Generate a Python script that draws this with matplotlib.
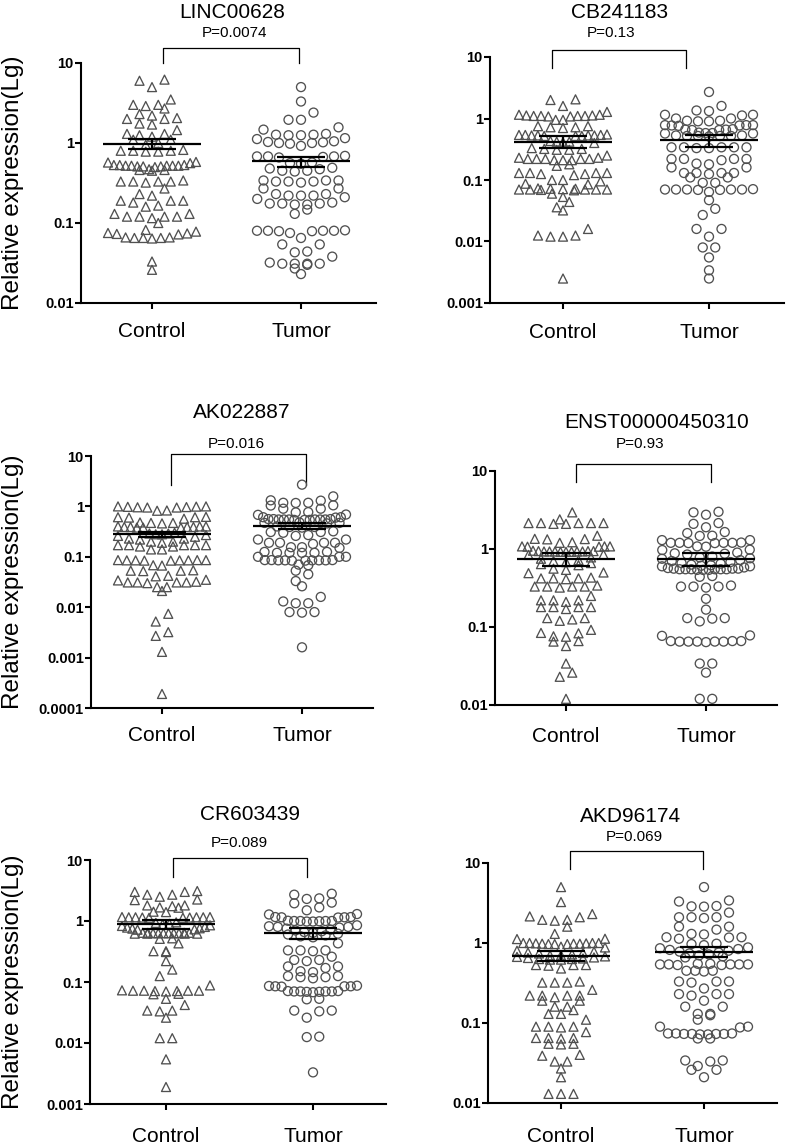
import numpy as np
import matplotlib
matplotlib.use("Agg")
import matplotlib.pyplot as plt
from matplotlib.ticker import FuncFormatter, NullLocator

plt.rcParams['font.family'] = ['Liberation Sans', 'DejaVu Sans']

# ---- data (relative expression, log scale) ----
groups = ["Control", "Tumor"]
genes = ["LINC00628", "CB241183", "AK022887", "ENST00000450310", "CR603439", "AKD96174"]
p_values = ["P=0.0074", "P=0.13", "P=0.016", "P=0.93", "P=0.089", "P=0.069"]
y_bottoms = [0.01, 0.001, 0.0001, 0.01, 0.001, 0.01]

linc_control = [6.2, 6.0, 5.0, 3.5, 3.0, 3.0, 2.9, 2.7, 2.3, 2.2, 2.05, 2.0, 2.0, 1.75, 1.7, 1.45,
                1.3, 1.3, 1.25, 1.2, 1.1, 1.1, 1.0, 0.95, 0.8, 0.8, 0.78, 0.8, 0.82, 0.78, 0.58,
                0.56, 0.57, 0.53, 0.52, 0.52, 0.51, 0.52, 0.53, 0.51, 0.52, 0.5, 0.52, 0.53, 0.51,
                0.47, 0.46, 0.46, 0.45, 0.33, 0.33, 0.32, 0.33, 0.34, 0.33, 0.27, 0.23, 0.22, 0.19,
                0.19, 0.18, 0.19, 0.165, 0.16, 0.13, 0.13, 0.12, 0.12, 0.115, 0.12, 0.12, 0.1,
                0.082, 0.078, 0.075, 0.072, 0.074, 0.073, 0.066, 0.065, 0.065, 0.066, 0.064,
                0.065, 0.033, 0.026]
linc_tumor = [5.0, 3.3, 2.4, 1.95, 1.95, 1.57, 1.47, 1.3, 1.27, 1.25, 1.27, 1.25, 1.15, 1.12,
              1.05, 1.02, 1.0, 0.98, 1.0, 1.03, 0.92, 0.68, 0.68, 0.67, 0.69, 0.66, 0.68, 0.57,
              0.55, 0.56, 0.49, 0.48, 0.47, 0.45, 0.44, 0.45, 0.34, 0.33, 0.33, 0.34, 0.33, 0.32,
              0.34, 0.27, 0.27, 0.22, 0.23, 0.22, 0.21, 0.22, 0.23, 0.2, 0.175, 0.17, 0.175, 0.18,
              0.17, 0.175, 0.147, 0.13, 0.08, 0.08, 0.079, 0.08, 0.081, 0.08, 0.079, 0.075, 0.065,
              0.054, 0.054, 0.044, 0.043, 0.038, 0.031, 0.031, 0.032, 0.031, 0.03, 0.031, 0.027,
              0.023]
cb_control = [2.05, 2.0, 1.6, 1.28, 1.15, 1.1, 1.1, 1.08, 1.1, 1.12, 1.08, 1.1, 1.15, 1.12, 0.95,
              0.95, 0.75, 0.72, 0.7, 0.72, 0.75, 0.54, 0.53, 0.52, 0.53, 0.54, 0.52, 0.53, 0.55,
              0.52, 0.53, 0.54, 0.42, 0.41, 0.43, 0.42, 0.4, 0.32, 0.31, 0.32, 0.33, 0.31, 0.25,
              0.22, 0.22, 0.21, 0.22, 0.23, 0.21, 0.22, 0.21, 0.22, 0.23, 0.18, 0.17, 0.13, 0.125,
              0.13, 0.12, 0.13, 0.125, 0.13, 0.1, 0.1, 0.095, 0.087, 0.085, 0.072, 0.07, 0.07,
              0.068, 0.07, 0.071, 0.069, 0.07, 0.07, 0.072, 0.073, 0.06, 0.053, 0.044, 0.036,
              0.032, 0.016, 0.0125, 0.012, 0.012, 0.0125, 0.0025]
cb_tumor = [2.7, 1.6, 1.35, 1.32, 1.15, 1.15, 1.12, 1.0, 1.0, 0.92, 0.9, 0.92, 0.9, 0.78, 0.77,
            0.78, 0.76, 0.78, 0.77, 0.66, 0.65, 0.66, 0.67, 0.65, 0.58, 0.57, 0.58, 0.59, 0.57,
            0.52, 0.52, 0.53, 0.51, 0.52, 0.52, 0.53, 0.34, 0.34, 0.33, 0.34, 0.33, 0.34, 0.34,
            0.22, 0.22, 0.21, 0.22, 0.22, 0.185, 0.18, 0.16, 0.16, 0.13, 0.13, 0.125, 0.13, 0.13,
            0.11, 0.11, 0.09, 0.09, 0.07, 0.07, 0.069, 0.07, 0.071, 0.07, 0.069, 0.07, 0.064,
            0.047, 0.034, 0.027, 0.016, 0.016, 0.012, 0.008, 0.008, 0.0055, 0.0034, 0.0025]
ak_control = [1.0, 0.98, 0.99, 1.0, 0.95, 0.96, 0.97, 0.95, 0.83, 0.82, 0.61, 0.6, 0.62, 0.61,
              0.57, 0.47, 0.46, 0.47, 0.48, 0.39, 0.38, 0.4, 0.39, 0.39, 0.38, 0.4, 0.39, 0.38,
              0.4, 0.3, 0.29, 0.28, 0.29, 0.27, 0.28, 0.26, 0.25, 0.23, 0.22, 0.23, 0.2, 0.2, 0.19,
              0.17, 0.17, 0.16, 0.17, 0.17, 0.16, 0.17, 0.14, 0.14, 0.086, 0.085, 0.084, 0.086,
              0.085, 0.084, 0.085, 0.086, 0.085, 0.068, 0.067, 0.053, 0.052, 0.053, 0.054, 0.042,
              0.041, 0.035, 0.034, 0.031, 0.031, 0.03, 0.031, 0.032, 0.031, 0.025, 0.025, 0.021,
              0.0074, 0.0052, 0.0032, 0.0027, 0.0013, 0.00019]
ak_tumor = [2.7, 1.58, 1.32, 1.3, 1.18, 1.17, 1.18, 1.05, 1.04, 0.9, 0.9, 0.77, 0.76, 0.69, 0.68,
            0.61, 0.6, 0.61, 0.55, 0.55, 0.54, 0.56, 0.55, 0.54, 0.55, 0.56, 0.55, 0.54, 0.55,
            0.56, 0.47, 0.46, 0.47, 0.48, 0.39, 0.4, 0.38, 0.39, 0.31, 0.31, 0.32, 0.3, 0.27,
            0.26, 0.22, 0.22, 0.19, 0.19, 0.18, 0.19, 0.19, 0.155, 0.15, 0.155, 0.12, 0.12, 0.125,
            0.12, 0.12, 0.125, 0.1, 0.1, 0.1, 0.086, 0.085, 0.085, 0.084, 0.086, 0.085, 0.085,
            0.084, 0.086, 0.085, 0.07, 0.068, 0.053, 0.045, 0.033, 0.026, 0.016, 0.013, 0.012,
            0.012, 0.008, 0.0078, 0.008, 0.0016]
enst_control = [2.95, 2.4, 2.15, 2.15, 2.15, 2.1, 2.15, 2.15, 2.1, 1.48, 1.34, 1.33, 1.35, 1.22,
                1.2, 1.08, 1.07, 1.08, 1.08, 1.07, 0.95, 0.93, 0.92, 0.93, 0.94, 0.93, 0.92, 0.94,
                0.93, 0.93, 0.92, 0.94, 0.85, 0.84, 0.78, 0.75, 0.72, 0.7, 0.68, 0.66, 0.64, 0.62,
                0.56, 0.54, 0.5, 0.49, 0.42, 0.42, 0.41, 0.42, 0.43, 0.33, 0.33, 0.34, 0.33, 0.32,
                0.33, 0.25, 0.22, 0.22, 0.22, 0.21, 0.18, 0.18, 0.17, 0.18, 0.18, 0.13, 0.13,
                0.125, 0.12, 0.092, 0.084, 0.083, 0.076, 0.075, 0.066, 0.065, 0.057, 0.034, 0.026,
                0.023, 0.012]
enst_tumor = [3.0, 2.95, 2.75, 2.15, 2.1, 1.9, 1.65, 1.6, 1.48, 1.47, 1.3, 1.3, 1.2, 1.2, 1.19,
              1.2, 1.21, 1.2, 1.19, 1.08, 1.07, 0.98, 0.97, 0.9, 0.88, 0.87, 0.85, 0.8, 0.78,
              0.76, 0.75, 0.72, 0.7, 0.68, 0.66, 0.65, 0.63, 0.62, 0.61, 0.6, 0.6, 0.58, 0.57,
              0.56, 0.55, 0.55, 0.54, 0.55, 0.56, 0.55, 0.54, 0.55, 0.56, 0.55, 0.54, 0.45, 0.44,
              0.33, 0.33, 0.34, 0.33, 0.32, 0.23, 0.167, 0.13, 0.13, 0.128, 0.118, 0.078, 0.077,
              0.066, 0.065, 0.065, 0.066, 0.065, 0.064, 0.065, 0.066, 0.065, 0.034, 0.034, 0.026,
              0.012, 0.012]
cr_control = [3.1, 3.0, 3.0, 2.7, 2.7, 2.5, 2.25, 2.2, 1.8, 1.8, 1.75, 1.67, 1.65, 1.42, 1.4,
              1.15, 1.14, 1.16, 1.15, 1.13, 1.15, 1.16, 1.14, 1.15, 1.13, 0.95, 0.93, 0.9, 0.88,
              0.85, 0.83, 0.8, 0.78, 0.76, 0.75, 0.73, 0.72, 0.64, 0.63, 0.62, 0.63, 0.64, 0.62,
              0.63, 0.64, 0.63, 0.62, 0.63, 0.64, 0.62, 0.63, 0.52, 0.51, 0.43, 0.32, 0.32, 0.31,
              0.22, 0.16, 0.125, 0.088, 0.072, 0.071, 0.072, 0.073, 0.071, 0.072, 0.07, 0.072,
              0.064, 0.063, 0.053, 0.042, 0.034, 0.034, 0.033, 0.026, 0.012, 0.012, 0.0054, 0.0019]
cr_tumor = [2.8, 2.7, 2.35, 2.3, 2.0, 1.95, 1.67, 1.5, 1.3, 1.28, 1.16, 1.15, 1.14, 1.15, 1.16,
            1.0, 1.0, 0.98, 1.0, 0.99, 1.0, 1.01, 0.98, 0.85, 0.82, 0.8, 0.8, 0.78, 0.75, 0.72,
            0.7, 0.68, 0.66, 0.64, 0.62, 0.6, 0.58, 0.56, 0.54, 0.43, 0.33, 0.33, 0.32, 0.33,
            0.26, 0.23, 0.23, 0.22, 0.18, 0.18, 0.17, 0.15, 0.145, 0.125, 0.125, 0.12, 0.12,
            0.115, 0.087, 0.085, 0.085, 0.086, 0.084, 0.085, 0.07, 0.071, 0.069, 0.07, 0.068,
            0.07, 0.071, 0.069, 0.07, 0.053, 0.052, 0.034, 0.034, 0.033, 0.026, 0.0127, 0.0125,
            0.0033]
akd_control = [5.0, 3.25, 2.3, 2.15, 2.1, 1.95, 1.95, 1.9, 1.6, 1.3, 1.13, 1.12, 1.0, 0.98, 1.0,
               0.97, 0.99, 1.0, 0.98, 0.97, 1.0, 0.99, 0.98, 0.97, 0.9, 0.88, 0.8, 0.78, 0.76,
               0.75, 0.74, 0.72, 0.7, 0.7, 0.68, 0.67, 0.66, 0.65, 0.63, 0.62, 0.63, 0.62, 0.64,
               0.53, 0.53, 0.52, 0.53, 0.48, 0.32, 0.32, 0.33, 0.32, 0.26, 0.22, 0.22, 0.21, 0.22,
               0.22, 0.19, 0.19, 0.16, 0.16, 0.145, 0.13, 0.13, 0.11, 0.09, 0.09, 0.088, 0.09,
               0.077, 0.065, 0.065, 0.064, 0.065, 0.055, 0.054, 0.055, 0.04, 0.039, 0.033, 0.033,
               0.027, 0.021, 0.013, 0.013, 0.013]
akd_tumor = [5.0, 3.4, 3.3, 2.9, 2.85, 2.87, 2.4, 2.1, 2.1, 2.05, 2.1, 1.6, 1.6, 1.47, 1.3, 1.28,
             1.18, 1.17, 1.18, 1.13, 0.98, 0.97, 0.94, 0.88, 0.86, 0.84, 0.82, 0.8, 0.78, 0.76,
             0.74, 0.72, 0.7, 0.68, 0.66, 0.54, 0.54, 0.53, 0.54, 0.55, 0.54, 0.53, 0.54, 0.55,
             0.45, 0.45, 0.44, 0.45, 0.33, 0.33, 0.32, 0.33, 0.27, 0.23, 0.23, 0.22, 0.23, 0.19,
             0.16, 0.16, 0.13, 0.13, 0.125, 0.11, 0.09, 0.09, 0.088, 0.073, 0.074, 0.072, 0.073,
             0.074, 0.072, 0.073, 0.074, 0.073, 0.064, 0.064, 0.034, 0.034, 0.033, 0.029, 0.026,
             0.026, 0.021]

control_data = [linc_control, cb_control, ak_control, enst_control, cr_control, akd_control]
tumor_data = [linc_tumor, cb_tumor, ak_tumor, enst_tumor, cr_tumor, akd_tumor]
# mean and SEM as drawn in the figure
control_mean = [0.98, 0.42, 0.28, 0.75, 0.89, 0.69]
control_sem = [0.13, 0.09, 0.035, 0.14, 0.16, 0.10]
tumor_mean = [0.59, 0.44, 0.41, 0.75, 0.63, 0.77]
tumor_sem = [0.085, 0.095, 0.05, 0.14, 0.13, 0.11]

# ---- layout in pixels of the 787x1145 canvas ----
W, H = 787, 1145
# axis left, axis right, y of top tick (10), y of x axis, x of the two group ticks
frames = [(81, 376, 63, 303, 152, 301), (490, 784, 57, 303, 563, 709),
          (91, 373, 456, 708, 162, 302), (495, 777, 471, 705, 566, 706),
          (90, 386, 860, 1104, 166, 313), (488, 777, 863, 1103, 561, 704)]
title_xy = [(232, 13), (620, 13), (242, 413), (657, 423), (250, 815), (631, 817)]
pval_xy = [(235, 33), (611, 33), (236, 444), (640, 444), (239, 843), (634, 837)]
bracket_x = [(163, 299), (552, 686), (171, 306), (576, 711), (173, 307), (570, 703)]
bracket_y = [(48, 63), (50, 68), (454, 485), (464, 482), (858, 877), (851, 869)]
label_base = [337, 338, 741, 742, 1142, 1142]

PX = 100 / 72.0  # pixels per point


def swarm_x(ax, xc, vals, row_px=8.0, step_px=12.5, max_px=88.0):
    # Prism-like column scatter: points close in y share a row, spread evenly
    vals = np.asarray(vals, float)
    ypx = ax.transData.transform(np.column_stack([np.full(len(vals), xc), vals]))[:, 1]
    rows = []
    for i in np.argsort(-ypx):
        if rows and rows[-1][0] - ypx[i] < row_px:
            rows[-1][1].append(i)
        else:
            rows.append([ypx[i], [i]])
    dx = np.zeros(len(vals))
    for _, idx in rows:
        n = len(idx)
        sp = step_px if n < 2 else min(step_px, max_px / (n - 1))
        slots = (np.arange(n) - (n - 1) / 2) * sp
        slots = slots[np.argsort(np.abs(slots), kind="stable")]
        for j, s in zip(sorted(idx, key=lambda k: vals[k]), slots):
            dx[j] = s
    ppu = ax.transData.transform((1, 1))[0] - ax.transData.transform((0, 1))[0]
    return xc + dx / ppu


fig = plt.figure(figsize=(W / 100, H / 100), dpi=100)

for p in range(6):
    x0, x1, yt, yb, t1, t2 = frames[p]
    span = float(t2 - t1)
    ax = fig.add_axes([x0 / W, 1 - yb / H, (x1 - x0) / W, (yb - yt) / H])
    ax.set_yscale("log")
    ax.set_ylim(y_bottoms[p], 10)
    ax.set_xlim(-(t1 - x0) / span, 1 + (x1 - t2) / span)
    ax.set_yticks(10.0 ** np.arange(np.log10(y_bottoms[p]), 1.5))
    ax.yaxis.set_minor_locator(NullLocator())
    ax.yaxis.set_major_formatter(FuncFormatter(lambda v, pos: "%g" % v))
    for s in ["top", "right"]:
        ax.spines[s].set_visible(False)
    for s in ["left", "bottom"]:
        ax.spines[s].set_linewidth(1.5)
    ax.tick_params(axis="y", length=4, width=1.5, pad=1.2, labelsize=10.5)
    for t in ax.get_yticklabels():
        t.set_fontweight("bold")
    gap = label_base[p] - yb
    ax.tick_params(axis="x", length=4.5, width=1.5, labelsize=15, pad=gap / PX - 4.5)
    ax.set_xticks([0, 1])
    ax.set_xticklabels(groups)
    plt.setp(ax.get_xticklabels(), va="baseline")

    for g, (vals, marker, mean, sem) in enumerate([
            (control_data[p], "^", control_mean[p], control_sem[p]),
            (tumor_data[p], "o", tumor_mean[p], tumor_sem[p])]):
        xs = swarm_x(ax, g, vals)
        ax.scatter(xs, vals, marker=marker, s=42, facecolors="none",
                   edgecolors="#505050", linewidths=0.95, zorder=3, clip_on=False)
        ax.hlines(mean, g - 49 / span, g + 49 / span, color="black", lw=1.6, zorder=4)
        ax.hlines([mean - sem, mean + sem], g - 24 / span, g + 24 / span,
                  color="black", lw=1.6, zorder=4)
        ax.vlines(g, mean - sem, mean + sem, color="black", lw=1.6, zorder=4)

    # significance bracket
    bx = [(bracket_x[p][0] - t1) / span, (bracket_x[p][1] - t1) / span]
    btop = (yb - bracket_y[p][0]) / (yb - yt)
    bbot = (yb - bracket_y[p][1]) / (yb - yt)
    ax.plot([bx[0], bx[0], bx[1], bx[1]], [bbot, btop, btop, bbot], color="black",
            lw=0.9, transform=ax.get_xaxis_transform(), clip_on=False)

    fig.text(title_xy[p][0] / W, 1 - title_xy[p][1] / H, genes[p], fontsize=15,
             ha="center", va="center")
    fig.text(pval_xy[p][0] / W, 1 - pval_xy[p][1] / H, p_values[p], fontsize=11,
             ha="center", va="center")
    if p % 2 == 0:
        fig.text(13 / W, 1 - (yt + yb) / 2 / H, "Relative expression(Lg)", fontsize=17.5,
                 rotation=90, ha="center", va="center")

fig.savefig("out.png", dpi=100)
